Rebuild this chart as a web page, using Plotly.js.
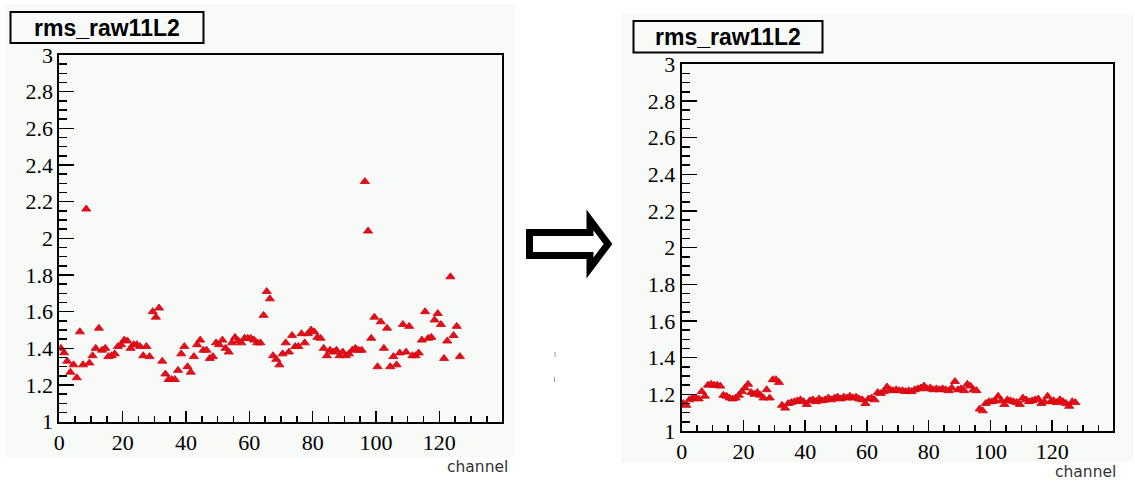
<!DOCTYPE html>
<html>
<head>
<meta charset="utf-8">
<script src="https://cdn.plot.ly/plotly-3.0.1.min.js"></script>
<style>
  html, body { margin: 0; padding: 0; background: #ffffff; }
  #chart { width: 1135px; height: 486px; }
</style>
</head>
<body>
<div id="chart"></div>
<script>
// ---------------- data ----------------
const histTitle = "rms_raw11L2";
const xAxisLabel = "channel";

// rms per channel, before (left panel)
const rmsBefore = [
  1.40, 1.376, 1.33, 1.27, 1.31, 1.24, 1.49, 1.31, 2.16, 1.32,
  1.36, 1.40, 1.51, 1.39, 1.40, 1.355, 1.36, 1.37, 1.41, 1.42,
  1.445, 1.44, 1.40, 1.42, 1.42, 1.41, 1.36, 1.41, 1.355, 1.60,
  1.57, 1.62, 1.33, 1.26, 1.23, 1.23, 1.23, 1.28, 1.37, 1.41,
  1.30, 1.27, 1.355, 1.42, 1.445, 1.39, 1.39, 1.345, 1.355, 1.43,
  1.42, 1.445, 1.40, 1.38, 1.43, 1.46, 1.44, 1.43, 1.455, 1.455,
  1.455, 1.445, 1.43, 1.43, 1.58, 1.71, 1.67, 1.36, 1.34, 1.31,
  1.37, 1.43, 1.38, 1.47, 1.41, 1.41, 1.48, 1.43, 1.48, 1.50,
  1.49, 1.46, 1.455, 1.40, 1.36, 1.39, 1.38, 1.39, 1.36, 1.38,
  1.36, 1.37, 1.39, 1.40, 1.39, 1.39, 2.31, 2.04, 1.455, 1.57,
  1.30, 1.545, 1.40, 1.51, 1.30, 1.355, 1.31, 1.375, 1.53, 1.38,
  1.52, 1.36, 1.36, 1.375, 1.445, 1.60, 1.455, 1.46, 1.555, 1.59,
  1.53, 1.345, 1.44, 1.79, 1.47, 1.52, 1.355
];

// rms per channel, after (right panel)
const rmsAfter = [
  1.15, 1.14, 1.17, 1.18, 1.18, 1.175, 1.215, 1.19, 1.25, 1.255,
  1.25, 1.25, 1.245, 1.195, 1.19, 1.18, 1.175, 1.18, 1.195, 1.215,
  1.235, 1.255, 1.21, 1.20, 1.21, 1.195, 1.18, 1.225, 1.18, 1.28,
  1.28, 1.265, 1.14, 1.125, 1.15, 1.155, 1.16, 1.165, 1.17, 1.16,
  1.145, 1.165, 1.17, 1.16, 1.175, 1.165, 1.17, 1.18, 1.17, 1.18,
  1.185, 1.175, 1.185, 1.18, 1.19, 1.18, 1.185, 1.175, 1.17, 1.15,
  1.175, 1.18, 1.17, 1.21, 1.205, 1.215, 1.24, 1.225, 1.22, 1.225,
  1.22, 1.22, 1.215, 1.22, 1.215, 1.225, 1.23, 1.235, 1.245, 1.23,
  1.235, 1.225, 1.23, 1.225, 1.23, 1.225, 1.22, 1.235, 1.27, 1.225,
  1.23, 1.22, 1.255, 1.245, 1.225, 1.22, 1.12, 1.11, 1.15, 1.16,
  1.16, 1.165, 1.19, 1.165, 1.145, 1.17, 1.165, 1.16, 1.155, 1.145,
  1.18, 1.17, 1.16, 1.165, 1.17, 1.175, 1.15, 1.16, 1.19, 1.16,
  1.165, 1.155, 1.17, 1.16, 1.15, 1.135, 1.16, 1.155
];

// channel bin centres
const channelsBefore = rmsBefore.map((_, i) => i + 0.5);
const channelsAfter = rmsAfter.map((_, i) => i + 0.5);

// ---------------- layout helpers ----------------
const W = 1135, H = 486;
const fx = x => x / W;
const fy = y => 1 - y / H;
const BG = "#f7faf7";
const RED = "#e3101a";

const marker = { symbol: "triangle-up", size: 8, color: RED, line: { width: 0.8, color: "#d0000c" } };

const traces = [
  { x: channelsBefore, y: rmsBefore, type: "scatter", mode: "markers", marker: marker, xaxis: "x", yaxis: "y", hoverinfo: "x+y" },
  { x: channelsAfter, y: rmsAfter, type: "scatter", mode: "markers", marker: marker, xaxis: "x2", yaxis: "y2", hoverinfo: "x+y" }
];

const tickFont = { family: "Liberation Serif", size: 22, color: "#000" };

function xAxis(d0, d1, anchor) {
  return {
    domain: [fx(d0), fx(d1)], anchor: anchor,
    range: [0, 139.7], tick0: 0, dtick: 20,
    ticks: "inside", ticklen: 11, tickwidth: 1.5, tickcolor: "#000",
    minor: { ticks: "inside", dtick: 5, tick0: 0, ticklen: 6, tickwidth: 1.5, tickcolor: "#000", showgrid: false },
    showline: true, linewidth: 2, linecolor: "#000", mirror: true,
    showgrid: false, zeroline: false,
    tickfont: tickFont
  };
}
function yAxis(top, bottom, anchor) {
  return {
    domain: [fy(bottom), fy(top)], anchor: anchor,
    range: [1, 3], tick0: 1, dtick: 0.2,
    ticks: "inside", ticklen: 15, tickwidth: 1.5, tickcolor: "#000",
    minor: { ticks: "inside", dtick: 0.05, tick0: 1, ticklen: 8, tickwidth: 1.5, tickcolor: "#000", showgrid: false },
    showline: true, linewidth: 2, linecolor: "#000", mirror: true,
    showgrid: false, zeroline: false,
    tickfont: tickFont
  };
}

const arrowPts = [[529.5, 232.5], [590, 232.5], [590, 220], [608, 244], [590, 268], [590, 255.5], [529.5, 255.5]];
const arrowPath = "M" + arrowPts.map(p => fx(p[0]).toFixed(5) + "," + fy(p[1]).toFixed(5)).join(" L") + " Z";

const shapes = [
  // panel backgrounds
  { type: "rect", xref: "paper", yref: "paper", x0: fx(5), x1: fx(515), y0: fy(457), y1: fy(4), fillcolor: BG, line: { width: 0 }, layer: "below" },
  { type: "rect", xref: "paper", yref: "paper", x0: fx(621), x1: fx(1133), y0: fy(462), y1: fy(13), fillcolor: BG, line: { width: 0 }, layer: "below" },
  // title boxes
  { type: "rect", xref: "paper", yref: "paper", x0: fx(10.5), x1: fx(203.5), y0: fy(43), y1: fy(12), fillcolor: BG, line: { width: 2, color: "#000" } },
  { type: "rect", xref: "paper", yref: "paper", x0: fx(633.5), x1: fx(822.5), y0: fy(52.5), y1: fy(21), fillcolor: BG, line: { width: 2, color: "#000" } },
  // hollow arrow
  { type: "path", xref: "paper", yref: "paper", path: arrowPath, line: { width: 7, color: "#000" }, fillcolor: "rgba(0,0,0,0)" },
  // small stray marks
  { type: "line", xref: "paper", yref: "paper", x0: fx(555), x1: fx(555), y0: fy(352), y1: fy(357), line: { width: 1, color: "#9a9a9a" } },
  { type: "line", xref: "paper", yref: "paper", x0: fx(554.5), x1: fx(554.5), y0: fy(377), y1: fy(382), line: { width: 1, color: "#9a9a9a" } }
];

const titleFont = { family: "Liberation Sans", size: 23, color: "#000", weight: "bold" };
const labelFont = { family: "DejaVu Sans", size: 15.5, color: "#333" };

const annotations = [
  { text: "<b>" + histTitle + "</b>", xref: "paper", yref: "paper", x: fx(107), y: fy(28), xanchor: "center", yanchor: "middle", showarrow: false, font: titleFont },
  { text: "<b>" + histTitle + "</b>", xref: "paper", yref: "paper", x: fx(728), y: fy(37), xanchor: "center", yanchor: "middle", showarrow: false, font: titleFont },
  { text: xAxisLabel, xref: "paper", yref: "paper", x: fx(510), y: fy(467), xanchor: "right", yanchor: "middle", showarrow: false, font: labelFont },
  { text: xAxisLabel, xref: "paper", yref: "paper", x: fx(1118), y: fy(472), xanchor: "right", yanchor: "middle", showarrow: false, font: labelFont }
];

const layout = {
  width: W, height: H,
  margin: { l: 0, r: 0, t: 0, b: 0, pad: 0 },
  paper_bgcolor: "#ffffff",
  plot_bgcolor: BG,
  showlegend: false,
  font: { family: "Liberation Serif" },
  xaxis: xAxis(59.3, 501.7, "y"),
  yaxis: yAxis(55, 421.7, "x"),
  xaxis2: xAxis(681.7, 1113, "y2"),
  yaxis2: yAxis(64.3, 431, "x2"),
  shapes: shapes,
  annotations: annotations
};

Plotly.newPlot("chart", traces, layout, { staticPlot: true, displayModeBar: false });
</script>
</body>
</html>
